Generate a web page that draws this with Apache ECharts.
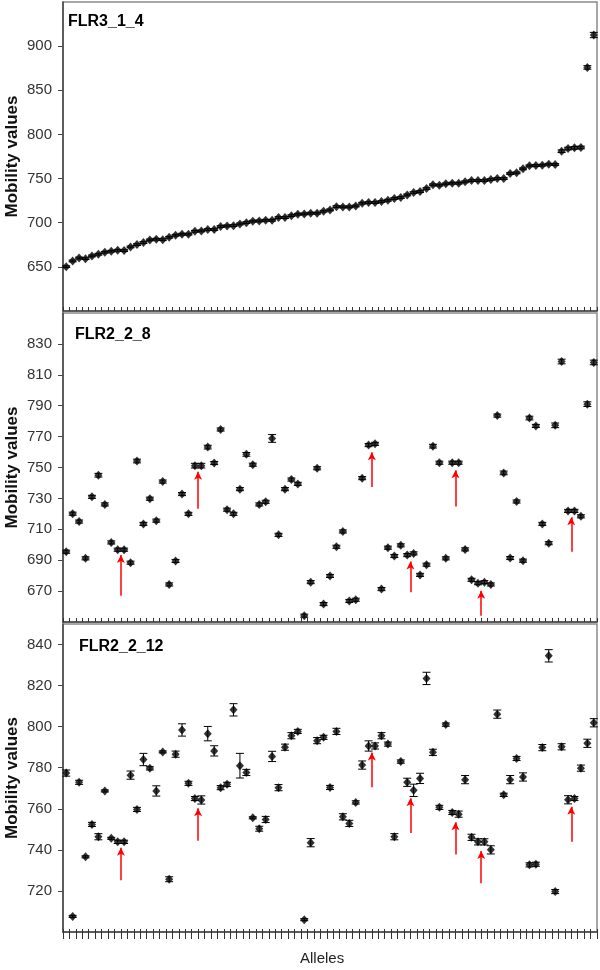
<!DOCTYPE html>
<html>
<head>
<meta charset="utf-8">
<script src="https://cdn.jsdelivr.net/npm/echarts@6/dist/echarts.min.js"></script>
<style>
html,body{margin:0;padding:0;background:#fff;}
#chart{width:600px;height:970px;}
</style>
</head>
<body>
<div id="chart"></div>
<script>
// ---- data ----
const panelTitles = ['FLR3_1_4', 'FLR2_2_8', 'FLR2_2_12'];
const alleleCount = 83;

const flr314Values = [
  650.2, 656.7, 660, 659.3, 662.4, 664.3, 666.5, 667.7, 668.8, 668.4,
  672.6, 675.2, 677.5, 680.5, 681.3, 680.8, 683.5, 685.8, 687, 687,
  690.3, 690.7, 692.2, 692.2, 695.6, 696.4, 696.7, 698.6, 700.1, 701.7,
  702, 702.8, 702.8, 705.8, 705.8, 708, 709.6, 710, 710.8, 710.8,
  713, 714.5, 718.2, 717.9, 717.9, 719, 722.1, 722.8, 722.8, 724,
  725.5, 727.4, 728.5, 731.5, 734.1, 735.3, 738.7, 742.9, 742.5, 744,
  744.8, 744.8, 746.3, 747.7, 747.7, 747.7, 748.9, 750, 750, 755.7,
  756.5, 761, 764.4, 764.7, 765.2, 766.3, 765.9, 781, 784, 784.8,
  785.2, 875.9, 912.6
];
const flr314Errors = [
  1,1,1,1,1,1,1,1,1,1, 1,1,1,1,1,1,1,1,1,1, 1,1,1,1,1,1,1,1,1,1,
  1,1,1,1,1,1,1,1,1,1, 1,1,1,1,1,1,1,1,1,1, 1,1,1,1,1,1,1,1,1,1,
  1,1,1,1,1,1,1,1,1,1, 1,1,1,1,1,1,1,1.5,1.5,1.5, 1.5,2,3
];

const flr228Values = [
  695.5, 720.1, 715, 691.2, 731, 745, 726.1, 701.5, 696.8, 696.8,
  688.4, 754.2, 713.5, 729.8, 715.6, 740.9, 674.3, 689.5, 732.8, 720,
  751.2, 751.2, 763.2, 752.9, 774.6, 722.7, 720, 736, 758.5, 751.8,
  726.1, 727.8, 768.8, 706.4, 736, 742.2, 739.4, 654.1, 675.8, 749.5,
  661.6, 679.8, 698.7, 708.6, 663.6, 664.4, 743.1, 764.5, 765.3, 671.3,
  698.1, 692.7, 699.6, 693.3, 694.4, 680.5, 687.1, 763.8, 753.1, 691.2,
  753.1, 753.1, 697, 677.3, 675.1, 675.8, 674.3, 783.6, 746.5, 691.4,
  728, 689.7, 782, 776.9, 713.5, 701, 777.3, 818.6, 721.9, 721.9,
  718.4, 791, 818
];
const flr228Errors = [
  1,1,1,1,1,1.2,1,1,1,1, 1,1.2,1,1,1,1,1,1,1,1, 1.5,1.5,1.2,1,1,1,1,1,1.2,1,
  1,1,2.5,1,1,1,1,1,1,1, 1,1,1,1,1,1,1,1,1,1, 1,1,1,1,1,1,1,1.2,1,1,
  1,1,1,1,1,1,1,1,1.2,1, 1,1,1.2,1,1,1,1.5,1.5,1,1, 1,1.5,1.5
];

const flr2212Values = [
  777.4, 707.6, 772.9, 736.6, 752.4, 746.4, 768.7, 745.6, 743.9, 743.9,
  776.4, 759.7, 784, 779.7, 768.7, 787.7, 725.7, 786.6, 798.4, 772.4,
  765, 764.3, 796.6, 788.2, 770.3, 771.9, 808.2, 781, 777.7, 755.6,
  750.3, 754.8, 785.5, 770.3, 790, 795.6, 797.7, 706, 743.5, 793.2,
  794.8, 770.4, 797.7, 756.1, 752.9, 763.1, 781.3, 790.6, 790.6, 795.6,
  791.5, 746.4, 783, 772.9, 769, 774.8, 823.5, 787.5, 760.7, 801,
  758.2, 757.4, 774.2, 746.1, 743.9, 743.9, 740, 806.1, 766.8, 774.2,
  784.5, 775.5, 732.7, 733, 789.8, 834.5, 719.7, 790.2, 764.4, 765,
  779.8, 791.9, 801.9
];
const flr2212Errors = [
  1.5, 0.5, 1, 0.5, 1, 1.5, 0.5, 0.5, 0.8, 0.8,
  2, 1, 3, 0.8, 2.5, 0.5, 1.2, 1.5, 3, 1,
  1, 2, 3.5, 2.5, 1, 1, 3, 6, 1.5, 0.5,
  1.2, 1.5, 2.5, 1.5, 1.5, 1.5, 1, 0.5, 2, 1.5,
  1, 1, 1.5, 1.5, 1.5, 0.8, 2, 2.5, 1.5, 1.5,
  1, 1.5, 0.8, 2, 3, 2.5, 3, 1.5, 1, 0.8,
  1, 1.5, 2, 1.5, 1.5, 1.5, 2, 2, 0.8, 2,
  1, 2, 1, 1, 1.5, 3, 1, 1.5, 2, 1,
  1.5, 2, 2
];

// red arrows: boundary position between alleles, tail value, head value
const arrowPositions = [9, 21, 48, 54, 61, 65, 79];
const flr228ArrowTail = [667, 723.3, 737.3, 669.2, 724.8, 654.1, 695.5];
const flr228ArrowHead = [693.3, 747.3, 759.8, 689.1, 748.2, 670.2, 717.8];
const flr2212ArrowTail = [725.2, 744.5, 770.5, 748.2, 737.7, 723.7, 743.9];
const flr2212ArrowHead = [741, 760.3, 787.4, 765.1, 753.5, 739.4, 761];

// axis ranges / ticks
const yMins = [600, 650, 700];
const yMaxs = [950, 850, 850];
const yIntervals = [50, 20, 20];

const xAxisTitle = 'Alleles';
const yAxisTitle = 'Mobility values';

// ---- chart ----
const FONT = '"Liberation Sans", Arial, sans-serif';
const gridsPx = [
  {left: 63, top: 2, width: 534, height: 309},
  {left: 63, top: 313, width: 534, height: 309},
  {left: 63, top: 624, width: 534, height: 308}
];
const panels = [
  {values: flr314Values, errors: flr314Errors, arrowsTail: null, arrowsHead: null, titleX: 68, titleY: 23},
  {values: flr228Values, errors: flr228Errors, arrowsTail: flr228ArrowTail, arrowsHead: flr228ArrowHead, titleX: 75, titleY: 336},
  {values: flr2212Values, errors: flr2212Errors, arrowsTail: flr2212ArrowTail, arrowsHead: flr2212ArrowHead, titleX: 79, titleY: 648}
];

const grid = gridsPx.map(g => Object.assign({
  show: true, borderColor: '#8a8a8a', borderWidth: 1.5, backgroundColor: '#fff',
  containLabel: false, outerBoundsMode: 'none'
}, g));
const xAxis = [];
const yAxis = [];
const series = [];
const graphic = [];

panels.forEach((p, k) => {
  xAxis.push({
    gridIndex: k, type: 'value', min: 0, max: alleleCount, interval: 1,
    axisLine: {show: true, onZero: false, lineStyle: {color: '#444', width: 1.5}},
    axisTick: {show: true, inside: k < 2, length: k < 2 ? 4 : 7, lineStyle: {color: '#333', width: 1}},
    axisLabel: {show: false}, splitLine: {show: false}
  });
  if (k === 2) {
    xAxis.push({
      gridIndex: k, type: 'value', min: 0, max: alleleCount, interval: 1, position: 'bottom',
      axisLine: {show: false}, axisTick: {show: true, inside: true, length: 3, lineStyle: {color: '#333', width: 1}},
      axisLabel: {show: false}, splitLine: {show: false}
    });
  }
  yAxis.push({
    gridIndex: k, type: 'value', min: yMins[k], max: yMaxs[k], interval: yIntervals[k],
    axisLine: {show: true, lineStyle: {color: '#444', width: 1.5}},
    axisTick: {show: true, inside: false, length: 5, lineStyle: {color: '#444'}},
    axisLabel: {show: true, showMinLabel: false, showMaxLabel: false, margin: 11, color: '#333', fontFamily: FONT, fontSize: 15},
    splitLine: {show: false},
    name: yAxisTitle, nameLocation: 'middle', nameGap: 42, nameMoveOverlap: false,
    nameTextStyle: {fontFamily: FONT, fontSize: 17, fontWeight: 'bold', color: '#111'}
  });
  const xIndex = k === 2 ? 2 : k;
  const pts = p.values.map((v, i) => [i + 0.5, v, p.errors[i]]);
  series.push({
    type: 'custom', xAxisIndex: xIndex, yAxisIndex: k, data: pts, silent: true, animation: false, z: 3,
    encode: {x: 0, y: 1},
    renderItem: function (params, api) {
      const x = api.value(0), v = api.value(1), e = api.value(2);
      const t = api.coord([x, v + e]);
      const b = api.coord([x, v - e]);
      const hw = 4;
      const st = {stroke: '#000', lineWidth: 1};
      return {type: 'group', children: [
        {type: 'line', shape: {x1: t[0], y1: t[1], x2: b[0], y2: b[1]}, style: st},
        {type: 'line', shape: {x1: t[0] - hw, y1: t[1], x2: t[0] + hw, y2: t[1]}, style: st},
        {type: 'line', shape: {x1: b[0] - hw, y1: b[1], x2: b[0] + hw, y2: b[1]}, style: st}
      ]};
    }
  });
  const sc = {
    type: 'scatter', xAxisIndex: xIndex, yAxisIndex: k, data: pts.map(d => [d[0], d[1]]),
    symbol: 'diamond', symbolSize: [8, 9], itemStyle: {color: '#000'}, silent: true, animation: false, z: 4
  };
  if (p.arrowsTail) {
    sc.markLine = {
      silent: true, animation: false, symbol: ['none', 'arrow'], symbolSize: [6, 8], precision: 2,
      lineStyle: {color: '#ff0000', width: 1.5, type: 'solid'}, label: {show: false},
      emphasis: {disabled: true},
      data: arrowPositions.map((x, i) => [{coord: [x, p.arrowsTail[i]]}, {coord: [x, p.arrowsHead[i]]}])
    };
  }
  series.push(sc);
  graphic.push({
    type: 'text', left: p.titleX, top: p.titleY - 9,
    style: {text: panelTitles[k], fontFamily: FONT, fontSize: 16, fontWeight: 'bold', fill: '#000'}
  });
});

graphic.push({
  type: 'text', left: 300, top: 951,
  style: {text: xAxisTitle, fontFamily: FONT, fontSize: 15, fill: '#222'}
});

const chart = echarts.init(document.getElementById('chart'), null, {renderer: 'canvas'});
chart.setOption({
  backgroundColor: '#fff',
  animation: false,
  grid: grid,
  xAxis: xAxis,
  yAxis: yAxis,
  series: series,
  graphic: graphic
});
</script>
</body>
</html>
